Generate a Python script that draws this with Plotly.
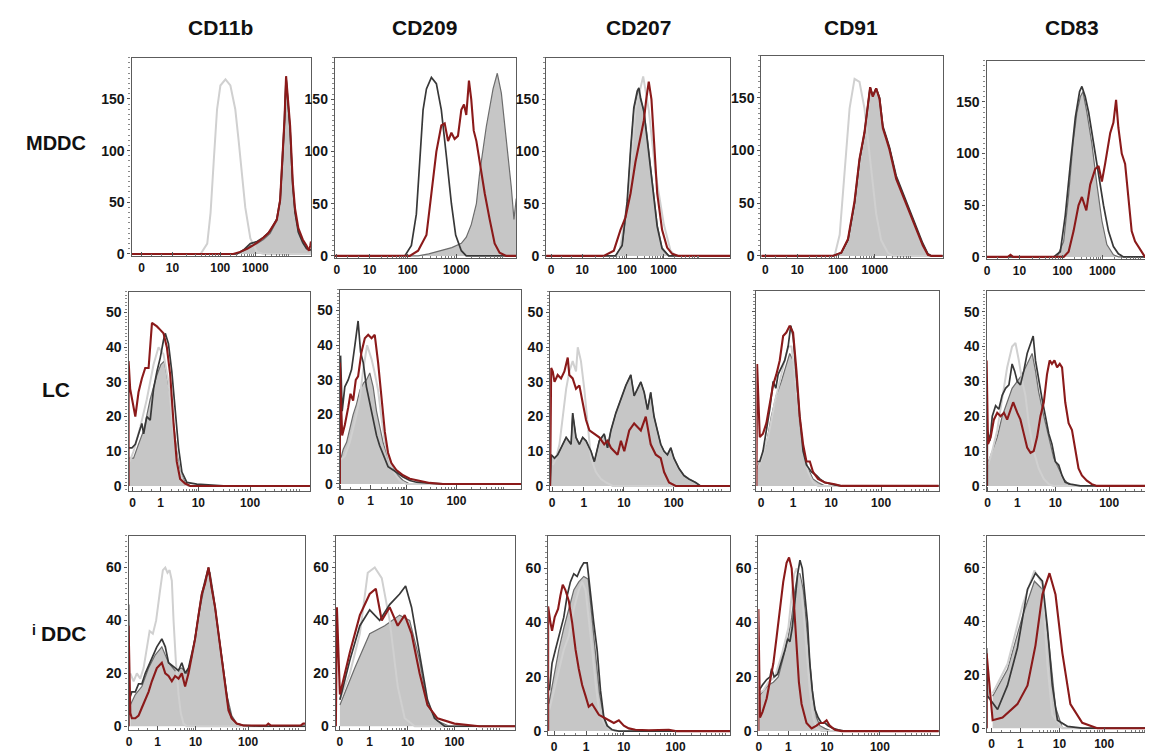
import plotly.graph_objects as go
import numpy as np

# ---------------- categories ----------------
COLUMNS = ["CD11b", "CD209", "CD207", "CD91", "CD83"]
ROWS = ["MDDC", "LC", "iDDC"]

# ---------------- tick labels ----------------
X_TICKTEXT = {"MDDC": ["0", "10", "100", "1000"], "LC": ["0", "1", "10", "100"], "iDDC": ["0", "1", "10", "100"]}
X_TICKVALS = {
    "MDDC": {"CD11b": [57, 233, 506, 706], "CD209": [11, 197, 411, 686], "CD207": [28, 200, 448, 653],
             "CD91": [23, 203, 433, 641], "CD83": [3, 186, 428, 653]},
    "LC": {"CD11b": [23, 180, 394, 686], "CD209": [6, 174, 377, 658], "CD207": [11, 192, 419, 702],
           "CD91": [26, 206, 420, 700], "CD83": [6, 174, 388, 692]},
    "iDDC": {"CD11b": [3, 168, 389, 694], "CD209": [23, 193, 410, 677], "CD207": [34, 213, 425, 716],
             "CD91": [3, 170, 390, 690], "CD83": [28, 191, 411, 664]},
}
Y_TICKVALS = {"MDDC": [0, 50, 100, 150], "LC": [0, 10, 20, 30, 40, 50], "iDDC": [0, 20, 40, 60]}

# ---------------- histogram data: (channel, count) ----------------
# MDDC
mddc_cd11b_fill = [(0,0),(600,0),(640,3),(678,8),(716,10),(753,14),(791,20),(829,32),(848,51),(863,90),(873,128),(882,172),(891,150),(905,122),(920,67),(933,41),(952,22),(977,12),(999,6),(1018,4),(1024,3)]
mddc_cd11b_black = [(0,0),(602,0),(640,4),(678,10),(716,12),(753,16),(791,22),(829,34),(848,52),(863,92),(873,130),(882,170),(891,150),(905,120),(920,66),(933,40),(952,21),(977,11),(999,5),(1018,4),(1024,4)]
mddc_cd11b_iso = [(0,0),(394,0),(432,10),(451,40),(469,90),(488,140),(507,163),(536,169),(564,163),(592,140),(611,110),(630,75),(649,45),(678,15),(716,2),(753,0),(1024,0)]
mddc_cd11b_red = [(0,0),(580,0),(620,2),(660,5),(700,9),(740,14),(780,20),(829,33),(848,52),(863,92),(873,130),(882,172),(891,152),(905,124),(920,70),(933,44),(952,25),(977,14),(999,8),(1012,3),(1020,8),(1024,12)]

mddc_cd209_fill = [(0,0),(470,0),(530,2),(600,5),(660,8),(714,12),(742,18),(770,30),(799,50),(817,79),(855,124),(893,160),(917,175),(940,156),(958,127),(977,98),(996,66),(1011,35),(1020,53),(1024,55)]
mddc_cd209_black = [(0,0),(395,0),(432,10),(460,40),(479,90),(498,140),(517,160),(545,171),(573,165),(601,140),(630,95),(658,50),(682,20),(714,5),(742,0),(1024,0)]
mddc_cd209_iso = None
mddc_cd209_red = [(0,0),(423,0),(470,5),(517,20),(545,60),(573,100),(601,125),(620,127),(639,110),(658,118),(676,112),(695,115),(714,140),(729,145),(742,135),(757,168),(770,150),(784,120),(799,110),(817,90),(846,60),(874,35),(902,12),(930,3),(968,0),(1024,0)]

mddc_cd207_fill = [(0,0),(385,0),(422,10),(450,50),(469,100),(487,140),(506,155),(515,158),(524,150),(543,140),(561,115),(589,70),(617,30),(644,8),(681,0),(1024,0)]
mddc_cd207_black = [(0,0),(385,0),(422,10),(450,52),(469,102),(487,142),(506,158),(515,161),(524,152),(543,138),(561,112),(589,68),(617,28),(644,7),(681,0),(1024,0)]
mddc_cd207_iso = [(0,0),(404,0),(459,60),(496,140),(539,172),(570,140),(607,80),(654,30),(691,5),(719,0),(1024,0)]
mddc_cd207_red = [(0,0),(320,0),(376,5),(413,25),(441,37),(469,60),(496,90),(524,115),(543,130),(556,150),(570,167),(585,150),(598,110),(617,60),(644,25),(672,8),(700,2),(737,0),(1024,0)]

mddc_cd91_fill = [(0,0),(404,0),(451,3),(489,15),(526,50),(554,90),(582,116),(601,140),(614,160),(629,152),(648,159),(667,150),(686,122),(705,112),(723,103),(761,75),(799,59),(855,35),(883,24),(911,11),(940,2),(960,0),(1024,0)]
mddc_cd91_black = [(0,0),(404,0),(451,3),(489,15),(526,50),(554,91),(582,117),(601,141),(614,160),(629,152),(648,159),(667,150),(686,123),(705,113),(723,103),(761,76),(799,60),(855,36),(883,25),(911,12),(940,2),(960,0),(1024,0)]
mddc_cd91_iso = [(0,0),(413,0),(442,20),(470,80),(498,140),(526,168),(554,165),(582,140),(601,110),(620,80),(648,40),(676,15),(714,3),(742,0),(1024,0)]
mddc_cd91_red = [(0,0),(404,0),(451,3),(489,16),(526,52),(554,92),(582,117),(601,142),(614,160),(629,151),(648,159),(667,149),(686,121),(705,111),(723,101),(761,73),(799,57),(855,33),(883,22),(911,10),(940,1),(960,0),(1024,0)]

mddc_cd83_fill = [(0,0),(398,0),(435,15),(463,60),(488,110),(510,140),(529,155),(544,160),(566,140),(594,110),(623,70),(651,35),(679,12),(716,2),(744,0),(979,0)]
mddc_cd83_black = [(0,0),(379,0),(416,5),(444,40),(473,90),(501,135),(525,160),(538,165),(557,155),(576,140),(604,110),(632,80),(660,50),(688,25),(716,10),(744,3),(773,0),(979,0)]
mddc_cd83_iso = None
mddc_cd83_red = [(0,0),(120,0),(135,2),(150,0),(435,0),(463,5),(491,25),(519,50),(538,58),(563,45),(585,70),(613,85),(632,88),(651,73),(669,90),(698,120),(716,130),(731,152),(744,125),(763,100),(782,90),(801,60),(819,25),(838,15),(866,8),(894,0),(979,0)]

# LC
lc_cd11b_fill = [(0,8),(9,8),(28,8),(56,12),(85,16),(122,25),(160,32),(182,35),(201,36),(216,32),(235,26),(254,18),(272,10),(291,4),(319,1),(348,0),(1024,0)]
lc_cd11b_black = [(0,11),(19,11),(38,12),(56,15),(75,18),(85,15),(103,20),(122,19),(141,28),(160,33),(179,37),(197,42),(207,44),(225,41),(244,33),(263,22),(282,11),(301,4),(329,1),(385,0.5),(460,0.3),(536,0),(1024,0)]
lc_cd11b_iso = [(6,7),(28,10),(66,17),(103,25),(141,35),(169,40),(197,38),(225,30),(254,15),(282,5),(310,1),(338,0),(1024,0)]
lc_cd11b_red = [(0,0),(0,36),(9,28),(38,20),(56,27),(75,31),(94,34),(113,34),(132,47),(160,46),(179,45),(197,44),(216,40),(235,32),(254,18),(272,7),(291,2),(319,0.7),(348,0),(1024,0)]

lc_cd209_fill = [(4,7),(19,10),(38,12),(56,16),(75,20),(94,23),(113,27),(132,29),(150,30),(169,32),(188,28),(207,21),(244,12),(282,6),(319,3),(357,1),(395,0),(1024,0)]
lc_cd209_black = [(0,0),(4,37),(13,21),(28,28),(47,30),(66,33),(85,40),(103,47),(117,38),(132,35),(150,28),(169,23),(188,18),(207,14),(225,11),(254,7),(272,5),(301,4),(329,3),(357,2),(395,1),(432,0.5),(507,0.2),(582,0),(1024,0)]
lc_cd209_iso = [(4,7),(28,8),(56,12),(75,16),(94,20),(113,25),(132,33),(154,40),(179,36),(197,32),(216,27),(235,19),(254,12),(282,6),(310,3),(338,1),(376,0),(1024,0)]
lc_cd209_red = [(0,0),(0,35),(13,14),(28,17),(47,22),(60,26),(75,24),(90,30),(103,31),(122,38),(141,42),(160,43),(179,42),(197,43),(216,35),(235,25),(254,15),(272,9),(291,6),(319,4),(357,2.5),(395,1.5),(451,1),(507,0.3),(582,0),(1024,0)]

lc_cd207_fill = [(0,0),(6,9),(25,8),(43,9),(62,11),(91,14),(119,12),(128,21),(147,14),(166,12),(185,14),(204,13),(232,10),(251,7),(279,13),(307,15),(326,11),(345,16),(373,21),(402,25),(430,29),(458,32),(477,26),(496,28),(515,30),(534,27),(553,22),(571,27),(590,20),(609,16),(628,12),(647,10),(666,9),(685,11),(703,8),(732,5),(760,3),(788,2),(826,1),(854,0),(1024,0)]
lc_cd207_black = lc_cd207_fill
lc_cd207_iso = [(15,6),(34,8),(53,12),(72,20),(91,28),(109,33),(128,36),(147,33),(157,40),(175,36),(194,28),(213,18),(232,8),(260,4),(289,2),(317,1),(355,0),(1024,0)]
lc_cd207_red = [(0,0),(6,34),(15,33),(25,30),(43,32),(62,31),(81,33),(100,37),(109,32),(128,31),(147,28),(166,29),(185,24),(204,19),(223,16),(251,15),(279,14),(307,12),(326,13),(345,11),(364,10),(383,9),(402,13),(421,10),(449,16),(477,18),(496,17),(515,16),(543,20),(571,12),(600,9),(628,8),(647,4),(675,1),(713,0),(1024,0)]

lc_cd91_fill = [(4,5),(28,8),(56,12),(84,20),(112,26),(140,30),(168,35),(187,38),(206,36),(225,28),(243,18),(262,10),(290,5),(318,2),(346,1),(384,0),(1024,0)]
lc_cd91_black = [(4,7),(19,7),(37,10),(56,16),(75,22),(94,30),(109,28),(122,32),(140,34),(159,36),(178,40),(193,46),(206,43),(225,30),(243,20),(262,10),(281,6),(309,4),(337,3),(356,2),(384,1),(440,0.3),(477,0),(1024,0)]
lc_cd91_iso = [(9,5),(37,9),(66,14),(103,24),(140,32),(178,40),(197,40),(215,32),(234,22),(262,10),(290,4),(318,1),(346,0),(1024,0)]
lc_cd91_red = [(0,0),(4,35),(19,14),(37,15),(56,18),(75,24),(94,29),(112,32),(131,36),(150,43),(168,44),(187,46),(206,44),(225,33),(243,20),(262,12),(281,7),(300,7),(318,4),(346,2),(384,1),(440,0.5),(477,0),(1024,0)]

lc_cd83_fill = [(4,6),(32,10),(60,14),(88,20),(116,24),(144,28),(173,30),(201,32),(229,35),(257,38),(276,33),(294,27),(323,20),(351,14),(379,8),(407,5),(435,2),(463,0.5),(491,0),(979,0)]
lc_cd83_black = [(4,0),(4,16),(19,13),(32,20),(51,23),(69,22),(88,26),(107,28),(126,29),(144,35),(158,33),(173,30),(191,29),(210,33),(229,38),(248,41),(263,43),(276,36),(294,30),(313,25),(332,20),(351,15),(369,12),(388,7),(407,6),(426,3),(444,1),(473,0.5),(529,0),(979,0)]
lc_cd83_iso = [(8,6),(32,10),(60,16),(88,25),(116,34),(144,40),(163,41),(182,36),(201,30),(219,26),(238,18),(266,10),(294,5),(323,2),(351,0.5),(379,0),(979,0)]
lc_cd83_red = [(0,0),(0,36),(8,12),(23,14),(41,19),(60,21),(79,20),(98,21),(116,19),(135,22),(150,24),(173,21),(191,19),(210,15),(229,11),(248,9.5),(266,10),(285,14),(304,20),(323,24),(341,32),(356,36),(369,35),(383,36),(398,34),(413,35),(426,34),(444,24),(463,18),(482,16),(501,10),(519,5),(538,3),(566,1.5),(594,0.5),(623,0),(979,0)]

# iDDC
iddc_cd11b_fill = [(10,8),(39,12),(77,15),(116,22),(155,27),(193,30),(232,24),(270,21),(309,22),(338,20),(367,26),(396,38),(425,48),(454,57),(473,58),(493,50),(512,40),(541,26),(570,12),(599,4),(628,1),(667,0),(1024,0)]
iddc_cd11b_black = [(0,0),(0,46),(4,10),(19,13),(39,13),(58,16),(77,16),(97,20),(116,23),(135,26),(164,30),(193,33),(213,30),(232,24),(251,23),(270,22),(290,21),(309,24),(328,20),(348,22),(367,27),(386,33),(406,42),(425,50),(444,55),(464,60),(483,52),(502,45),(522,35),(541,26),(560,15),(580,7),(599,3),(628,1),(667,0.3),(760,0),(1024,0)]
iddc_cd11b_iso = [(10,20),(29,17),(48,20),(68,18),(87,22),(106,30),(122,36),(141,35),(160,40),(180,50),(199,59),(213,60),(226,58),(238,59),(251,55),(261,40),(274,25),(290,12),(303,5),(319,1),(338,0),(1024,0)]
iddc_cd11b_red = [(0,0),(0,38),(10,5),(19,3),(39,3),(58,4),(77,7),(97,10),(116,13),(135,17),(164,22),(193,24),(213,20),(232,19),(251,17),(270,19),(290,18),(309,20),(328,15),(348,20),(367,26),(386,33),(406,42),(425,50),(444,54),(464,60),(483,52),(502,45),(522,35),(541,25),(560,15),(580,6),(599,3),(628,1),(667,0.3),(800,0.3),(811,1),(825,0.3),(1000,0.3),(1014,1),(1024,1)]

iddc_cd209_fill = [(23,8),(108,22),(193,35),(279,38),(364,42),(421,40),(478,25),(523,8),(580,2),(649,0),(1024,0)]
iddc_cd209_black = [(23,10),(80,25),(137,38),(193,44),(250,40),(307,46),(364,50),(398,53),(432,45),(478,28),(523,10),(563,3),(620,0),(1024,0)]
iddc_cd209_iso = [(23,10),(80,20),(137,35),(182,58),(222,60),(262,56),(307,40),(353,15),(393,3),(450,0),(1024,0)]
iddc_cd209_red = [(0,0),(6,45),(23,12),(80,28),(137,42),(193,50),(228,52),(262,40),(307,45),(353,38),(393,42),(432,35),(478,20),(523,8),(580,3),(677,1),(819,0),(1024,0)]

iddc_cd207_fill = [(4,10),(32,20),(60,30),(88,38),(116,45),(144,52),(172,55),(200,57),(225,56),(247,42),(270,28),(288,14),(313,5),(341,1),(378,0),(1024,0)]
iddc_cd207_black = [(7,15),(22,25),(41,30),(60,35),(88,42),(107,50),(125,55),(144,58),(163,57),(182,60),(200,62),(219,62),(238,50),(256,40),(275,30),(294,15),(313,5),(331,2),(359,0.5),(397,0),(1024,0)]
iddc_cd207_iso = [(7,8),(32,15),(60,22),(88,30),(116,35),(144,45),(172,52),(191,55),(210,52),(228,40),(247,30),(266,18),(285,8),(313,3),(341,1),(378,0),(1024,0)]
iddc_cd207_red = [(0,0),(0,46),(13,40),(22,37),(37,42),(56,45),(69,50),(82,54),(97,52),(116,48),(135,40),(154,30),(172,23),(191,17),(210,13),(228,9),(247,10),(266,8),(285,6),(313,5),(341,4),(369,3),(397,4),(425,2),(453,1),(490,0.5),(565,0.3),(678,0.5),(715,0),(1024,0)]

iddc_cd91_fill = [(4,13),(28,15),(57,17),(85,18),(113,20),(141,27),(170,35),(189,42),(207,52),(223,58),(236,58),(255,52),(273,40),(292,25),(311,12),(330,5),(349,2),(377,1),(415,0),(1024,0)]
iddc_cd91_black = [(4,15),(23,17),(47,19),(66,20),(75,23),(89,20),(109,21),(128,25),(151,30),(166,34),(179,33),(192,38),(207,48),(223,58),(236,63),(249,60),(264,50),(279,40),(292,25),(306,15),(321,8),(339,5),(358,3),(377,3),(396,2),(424,1),(453,0.5),(490,0),(1024,0)]
iddc_cd91_iso = [(4,14),(28,15),(57,18),(94,20),(132,28),(170,38),(189,50),(204,58),(217,60),(236,55),(255,45),(273,30),(292,15),(311,5),(330,1),(358,0),(1024,0)]
iddc_cd91_red = [(0,0),(0,45),(9,5),(23,7),(47,12),(66,18),(85,25),(104,35),(123,45),(141,55),(160,62),(174,64),(189,60),(204,45),(217,30),(230,18),(245,10),(273,3),(302,1),(330,2),(349,3),(368,3),(387,4),(405,2),(434,0.5),(472,0),(1024,0)]

iddc_cd83_fill = [(34,12),(118,22),(203,42),(270,55),(315,52),(355,30),(389,8),(428,0),(979,0)]
iddc_cd83_black = [(0,0),(0,30),(6,12),(62,7),(118,16),(174,30),(231,52),(276,58),(315,55),(343,38),(371,16),(400,3),(456,0.7),(540,0),(979,0)]
iddc_cd83_iso = [(34,13),(118,24),(203,46),(270,59),(315,54),(343,24),(371,5),(428,0),(979,0)]
iddc_cd83_red = [(0,0),(0,28),(34,3),(90,4),(174,9),(231,16),(276,31),(315,50),(355,58),(389,50),(428,28),(473,9),(540,2),(625,0),(979,0)]

DATA = {
    ("MDDC", "CD11b"): (mddc_cd11b_fill, mddc_cd11b_iso, mddc_cd11b_black, mddc_cd11b_red),
    ("MDDC", "CD209"): (mddc_cd209_fill, mddc_cd209_iso, mddc_cd209_black, mddc_cd209_red),
    ("MDDC", "CD207"): (mddc_cd207_fill, mddc_cd207_iso, mddc_cd207_black, mddc_cd207_red),
    ("MDDC", "CD91"): (mddc_cd91_fill, mddc_cd91_iso, mddc_cd91_black, mddc_cd91_red),
    ("MDDC", "CD83"): (mddc_cd83_fill, mddc_cd83_iso, mddc_cd83_black, mddc_cd83_red),
    ("LC", "CD11b"): (lc_cd11b_fill, lc_cd11b_iso, lc_cd11b_black, lc_cd11b_red),
    ("LC", "CD209"): (lc_cd209_fill, lc_cd209_iso, lc_cd209_black, lc_cd209_red),
    ("LC", "CD207"): (lc_cd207_fill, lc_cd207_iso, lc_cd207_black, lc_cd207_red),
    ("LC", "CD91"): (lc_cd91_fill, lc_cd91_iso, lc_cd91_black, lc_cd91_red),
    ("LC", "CD83"): (lc_cd83_fill, lc_cd83_iso, lc_cd83_black, lc_cd83_red),
    ("iDDC", "CD11b"): (iddc_cd11b_fill, iddc_cd11b_iso, iddc_cd11b_black, iddc_cd11b_red),
    ("iDDC", "CD209"): (iddc_cd209_fill, iddc_cd209_iso, iddc_cd209_black, iddc_cd209_red),
    ("iDDC", "CD207"): (iddc_cd207_fill, iddc_cd207_iso, iddc_cd207_black, iddc_cd207_red),
    ("iDDC", "CD91"): (iddc_cd91_fill, iddc_cd91_iso, iddc_cd91_black, iddc_cd91_red),
    ("iDDC", "CD83"): (iddc_cd83_fill, iddc_cd83_iso, iddc_cd83_black, iddc_cd83_red),
}

# ---------------- layout geometry (pixels: left, right, top, bottom) ----------------
W, H = 1153, 755
BOX = {
    "MDDC": [(121, 301, 50, 250), (325, 507, 50, 252), (537, 722, 50, 252), (753, 935, 48, 252), (979, 1153, 53, 253)],
    "LC":   [(118, 300, 286, 487), (330, 512, 284, 485), (541, 722, 286, 487), (748, 931, 285, 487), (979, 1153, 285, 487)],
    "iDDC": [(118, 295, 532, 728), (326, 506, 532, 728), (539, 722, 532, 733), (750, 931, 532, 733), (979, 1153, 532, 730)],
}
Y_RANGE = {"MDDC": [-2, 190], "LC": [-1.5, 56], "iDDC": [-1.5, 72]}
Y_MINOR = {"MDDC": 5, "LC": 1, "iDDC": 2}
FONT = "Liberation Sans, Arial, sans-serif"

C_FILL = "#c6c6c6"
C_FILL_LINE = "#6c6c6c"
C_ISO = "#d0d0d0"
C_BLACK = "#383838"
C_RED = "#8b1a1a"

fig = go.Figure()
layout = {}
idx = 0
for r in ROWS:
    for ci, c in enumerate(COLUMNS):
        idx += 1
        sfx = "" if idx == 1 else str(idx)
        xa, ya = "x" + sfx, "y" + sfx
        fill, iso, black, red = DATA[(r, c)]
        l, rr, t, b = BOX[r][ci]
        xmax = 1024 if ci < 4 else 1024 * (rr - l) / 182.0

        def add(series, **kw):
            if series is None:
                return
            fig.add_trace(go.Scatter(x=[p[0] for p in series], y=[p[1] for p in series],
                                     mode="lines", xaxis=xa, yaxis=ya, hoverinfo="skip",
                                     showlegend=False, **kw))

        add(fill, fill="tozeroy", fillcolor=C_FILL, line=dict(color=C_FILL_LINE, width=1.2))
        add(iso, line=dict(color=C_ISO, width=2))
        add(black, line=dict(color=C_BLACK, width=1.7))
        add(red, line=dict(color=C_RED, width=2.1))

        tv = X_TICKVALS[r][c]
        minor_x = []
        for k in range(2, len(tv)):
            a, bnd = tv[k - 1], tv[k]
            for m in range(2, 10):
                minor_x.append(a + (bnd - a) * np.log10(m))
        step = tv[-1] - tv[-2]
        for m in range(2, 10):
            v = tv[-1] + step * np.log10(m)
            if v < xmax:
                minor_x.append(v)
        minor_x.extend([tv[0] + (tv[1] - tv[0]) * f for f in (0.33, 0.66)])

        layout["xaxis" + sfx] = dict(
            domain=[l / W, rr / W], range=[0, xmax], anchor=ya,
            showline=True, mirror=True, linecolor="#5c5c5c", linewidth=1.3,
            showgrid=False, zeroline=False,
            tickmode="array", tickvals=tv, ticktext=X_TICKTEXT[r],
            ticks="inside", ticklen=4, tickcolor="#555",
            tickfont=dict(family=FONT, size=12, color="#151515", weight="bold"),
            minor=dict(tickmode="array", tickvals=minor_x, ticks="inside", ticklen=2, tickcolor="#777"),
            fixedrange=True,
        )
        layout["yaxis" + sfx] = dict(
            domain=[1 - b / H, 1 - t / H], range=Y_RANGE[r], anchor=xa,
            showline=True, mirror=True, linecolor="#5c5c5c", linewidth=1.3,
            showgrid=False, zeroline=False,
            tickmode="array", tickvals=Y_TICKVALS[r],
            showticklabels=not (r == "LC" and c == "CD91"),
            ticks="outside", ticklen=3, tickcolor="#555",
            tickfont=dict(family=FONT, size=14, color="#151515", weight="bold"),
            minor=dict(tickmode="linear", tick0=0, dtick=Y_MINOR[r], ticks="outside", ticklen=2, tickcolor="#888"),
            fixedrange=True,
        )

annotations = []
COL_TITLE_X = [210, 415, 630, 843, 1065]
for c, cx in zip(COLUMNS, COL_TITLE_X):
    annotations.append(dict(text=c, x=cx / W, y=1 - 20 / H, xref="paper", yref="paper",
                            showarrow=False, xanchor="center", yanchor="middle",
                            font=dict(family=FONT, size=21, color="#111", weight="bold")))
ROW_LABELS = [("MDDC", 45, 136, 20), ("LC", 45, 385, 21), ("DDC", 53, 631, 21), ("i", 23, 627, 14)]
for txt, rx, ry, fs in ROW_LABELS:
    annotations.append(dict(text=txt, x=rx / W, y=1 - ry / H, xref="paper", yref="paper",
                            showarrow=False, xanchor="center", yanchor="middle",
                            font=dict(family=FONT, size=fs, color="#111", weight="bold")))

fig.update_layout(width=W, height=H, margin=dict(l=0, r=0, t=0, b=0),
                  paper_bgcolor="white", plot_bgcolor="white",
                  showlegend=False, hovermode=False, annotations=annotations, **layout)

fig.write_html("out.html")
